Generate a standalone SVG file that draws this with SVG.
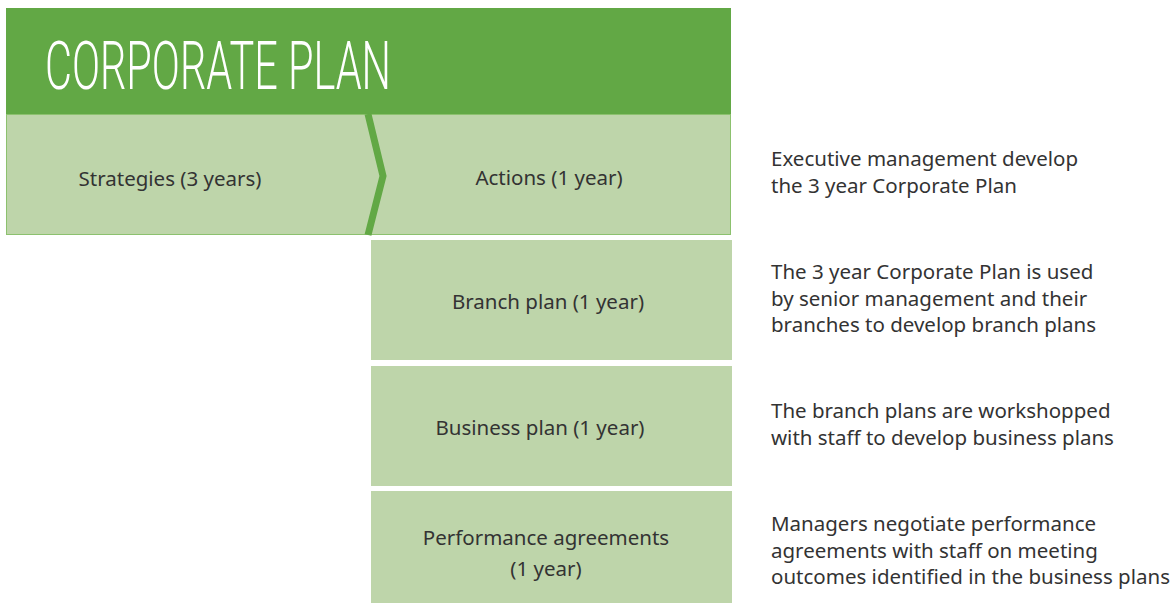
<svg xmlns="http://www.w3.org/2000/svg" width="1176" height="603" viewBox="0 0 1176 603">
  <style>
    .lbl { font-family: "Noto Sans", "Open Sans", "DejaVu Sans", sans-serif; font-size: 20.5px; fill: #333333; }
    .mid { text-anchor: middle; }
    .panel { fill: #bed5aa; }
    .title { font-family: "Roboto", "Liberation Sans", sans-serif; font-weight: 300; font-size: 66px; fill: #ffffff; }
  </style>

  <!-- Header band -->
  <g id="header">
    <rect x="6" y="8" width="725" height="107" fill="#62a845"/>
    <text class="title" x="45" y="89" textLength="346" lengthAdjust="spacingAndGlyphs">CORPORATE PLAN</text>
  </g>

  <!-- Strategies / actions strip with chevron divider -->
  <g id="strategy-row">
    <rect x="6.5" y="114.5" width="724" height="120" fill="#bed5aa" stroke="#8cc16e" stroke-width="1"/>
    <text class="lbl mid" x="170" y="186">Strategies (3 years)</text>
    <text class="lbl mid" x="549" y="185">Actions (1 year)</text>
  </g>

  <g id="connectors">
    <polyline points="368,114 383,176 368,235" fill="none" stroke="#62a845" stroke-width="7" stroke-linejoin="miter"/>
  </g>

  <g id="branch-plan">
    <rect class="panel" x="371" y="240" width="361" height="120"/>
    <text class="lbl mid" x="548" y="309">Branch plan (1 year)</text>
  </g>

  <g id="business-plan">
    <rect class="panel" x="371" y="366" width="361" height="120"/>
    <text class="lbl mid" x="540" y="435">Business plan (1 year)</text>
  </g>

  <g id="performance-agreements">
    <rect class="panel" x="371" y="491" width="361" height="112"/>
    <text class="lbl mid" x="546" y="545">Performance agreements</text>
    <text class="lbl mid" x="546" y="576">(1 year)</text>
  </g>

  <!-- Descriptions on the right -->
  <g id="desc-executive">
    <text class="lbl" x="771" y="166">Executive management develop</text>
    <text class="lbl" x="771" y="193">the 3 year Corporate Plan</text>
  </g>
  <g id="desc-senior">
    <text class="lbl" x="771" y="279">The 3 year Corporate Plan is used</text>
    <text class="lbl" x="771" y="306">by senior management and their</text>
    <text class="lbl" x="771" y="332">branches to develop branch plans</text>
  </g>
  <g id="desc-workshop">
    <text class="lbl" x="771" y="418">The branch plans are workshopped</text>
    <text class="lbl" x="771" y="445">with staff to develop business plans</text>
  </g>
  <g id="desc-agreements">
    <text class="lbl" x="771" y="531">Managers negotiate performance</text>
    <text class="lbl" x="771" y="558">agreements with staff on meeting</text>
    <text class="lbl" x="771" y="584">outcomes identified in the business plans</text>
  </g>
</svg>
